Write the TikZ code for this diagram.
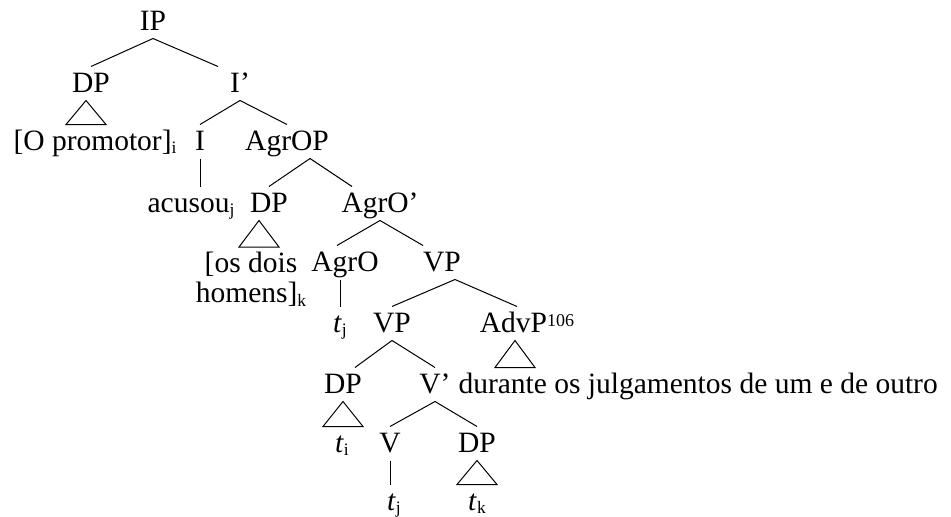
\documentclass[tikz,border=0pt]{standalone}
\usepackage{fontspec}
\setmainfont{Liberation Serif}
\usepackage{tikz}
\usetikzlibrary{calc,positioning}

% small indices and the footnote mark
\newcommand\idx[1]{\raisebox{-3.5pt}{\fontsize{17.5}{17.5}\selectfont #1}}
\newcommand\fnmark[1]{\raisebox{6pt}{\fontsize{18}{18}\selectfont #1}}
% triangle from a phrase down to its words
\newcommand\roof[3][0pt]{%
  \draw ($(#2.south)+(#1,0)$) -- ($(#2.south |- #3.north)+(#1-20pt,0)$)
    -- ($(#2.south |- #3.north)+(#1+20pt,0)$) -- cycle;}

\tikzset{
  lbl/.style={anchor=base, inner xsep=0pt, inner ysep=1pt, text height=24pt, text depth=7pt}
}

\begin{document}
\begin{tikzpicture}[x=1pt,y=1pt,line width=1pt,font=\fontsize{29.5}{32}\selectfont]
\useasboundingbox (0,0) rectangle (951,-517);

\node[lbl] (ip) at (153,-30) {IP};

\node[lbl] (dp1) at (91,-92) {DP};
\node[lbl] (ibar) at (240,-92) {I’};

\node[lbl] (promotor) at (95,-150) {[O promotor]\idx{i}};
\node[lbl] (i) at (200,-150) {I};
\node[lbl] (agrop) at (287,-150) {AgrOP};

\node[lbl] (acusou) at (191,-212) {acusou\idx{j}};
\node[lbl] (dp2) at (269,-212) {DP};
\node[lbl] (agrobar) at (380,-212) {AgrO’};

\node[align=center, anchor=north, inner xsep=0pt, inner ysep=5pt,
  font=\fontsize{29.5}{30}\selectfont] (osdois) at (251,-247) {[os dois\\homens]\idx{k}};
\node[lbl] (agro) at (345,-271) {AgrO};
\node[lbl] (vp1) at (442,-271) {VP};

\node[lbl] (tj1) at (340,-332) {\textit{t}\idx{j}};
\node[lbl] (vp2) at (392,-332) {VP};
\node[lbl] (advp) at (527,-332) {AdvP\fnmark{106}};

\node[lbl] (dp3) at (343,-393) {DP};
\node[lbl] (vbar) at (435,-393) {V’};
\node[lbl, anchor=base west] (durante) at (458,-393) {durante os julgamentos de um e de outro};

\node[lbl] (ti) at (342,-452) {\textit{t}\idx{i}};
\node[lbl] (v) at (390,-452) {V};
\node[lbl] (dp4) at (477,-452) {DP};

\node[lbl] (tj2) at (394,-510) {\textit{t}\idx{j}};
\node[lbl] (tk) at (477,-510) {\textit{t}\idx{k}};

% branches
\draw (ip.south) -- (dp1.north);
\draw (ip.south) -- ([xshift=-22pt]ibar.north);
\draw (ibar.south) -- (i.north);
\draw (ibar.south) -- (agrop.north);
\draw (i.south) -- (i.south |- acusou.north);
\draw ([xshift=23pt]agrop.south) -- (dp2.north);
\draw ([xshift=23pt]agrop.south) -- ([xshift=-28pt]agrobar.north);
\draw (agrobar.south) -- ([xshift=-8pt]agro.north);
\draw (agrobar.south) -- ([xshift=-19pt]vp1.north);
\draw (agro.south -| tj1.north) -- (tj1.north);
\draw ([xshift=13pt]vp1.south) -- (vp2.north);
\draw ([xshift=13pt]vp1.south) -- ([xshift=-10pt]advp.north);
\draw (vp2.south) -- ([xshift=12pt]dp3.north);
\draw (vp2.south) -- (vbar.north);
\draw (vbar.south) -- (v.north);
\draw (vbar.south) -- (dp4.north);
\draw (v.south) -- (v.south |- tj2.north);

% roofs
\roof[-5pt]{dp1}{promotor}
\roof[-10pt]{dp2}{osdois}
\roof[-12pt]{advp}{durante}
\roof{dp3}{ti}
\roof{dp4}{tk}

\end{tikzpicture}
\end{document}
